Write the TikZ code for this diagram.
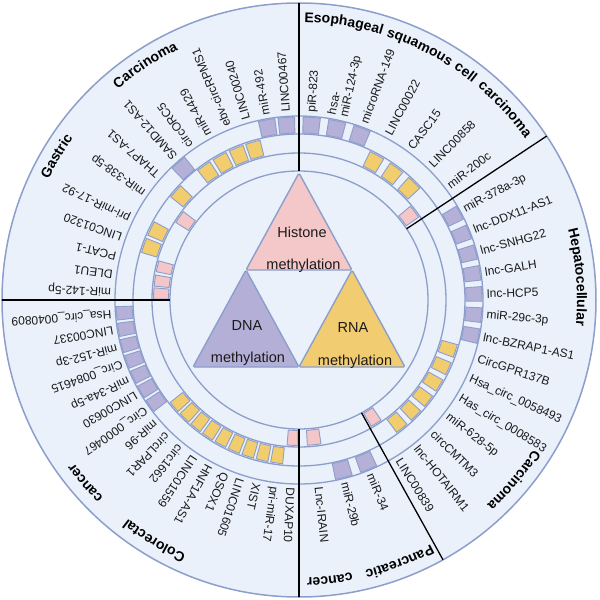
\documentclass[tikz,border=0pt]{standalone}
\usepackage{fontspec}
\setmainfont{Liberation Sans}
\usetikzlibrary{decorations.text}
\definecolor{bgc}{HTML}{EAF1FB}
\definecolor{ringc}{HTML}{8C9ECB}
\definecolor{pc}{HTML}{B5B0D8}
\definecolor{yc}{HTML}{F2CD6E}
\definecolor{kc}{HTML}{F4C6C7}
\definecolor{hc}{HTML}{F4C7C8}
\definecolor{dc}{HTML}{B4AFD7}
\definecolor{rc}{HTML}{F1CC70}
\definecolor{txt}{HTML}{1A1A1A}
\newcounter{lbn}
\newcommand\ttlfont{\bfseries\fontsize{14}{16}\selectfont}
\newcommand\ringbox[5]{\filldraw[boxst, fill=#3] ({#1-#2}:#4) arc[start angle={#1-#2}, end angle={#1+#2}, radius=#4] -- ({#1+#2}:#5) arc[start angle={#1+#2}, end angle={#1-#2}, radius=#5] -- cycle;}
\newcommand\lab[2]{\stepcounter{lbn}\node[lab, rotate=#1] (lab\arabic{lbn}) at ({#1}:188) {#2};}
\newcommand\itP[3][2.5]{\ringbox{#2}{#1}{pc}{167}{183}\lab{#2}{#3}}
\newcommand\itY[3][2.5]{\ringbox{#2}{#1}{yc}{148.5}{164.5}\lab{#2}{#3}}
\newcommand\itK[3][2.5]{\ringbox{#2}{#1}{kc}{130.5}{145.5}\lab{#2}{#3}}
\newcommand\ttl[3][278]{\path[decorate, decoration={text along path, text align=center, text={|\ttlfont|#3}}] ({#2+45}:#1) arc[start angle={#2+45}, end angle={#2-45}, radius=#1];}
\tikzset{
  boxst/.style={draw=ringc, line width=0.9pt},
  lab/.style={anchor=west, inner sep=0pt, font=\fontsize{12}{12.5}\selectfont, text=txt, align=left},
  tri/.style={draw=ringc, line width=1.4pt, line join=round, rounded corners=1.5pt},
  trit/.style={font=\fontsize{14.5}{16}\selectfont, text=txt, inner sep=0pt},
  divl/.style={black, line width=1.3pt},
  ringl/.style={ringc, line width=1.3pt}
}
\begin{document}
\begin{tikzpicture}[x=1pt,y=1pt]
\useasboundingbox (-299,-300) rectangle (301,300);
\fill[bgc] (0,0) circle (297);
\draw[ringc, line width=1.5pt] (0,0) circle (297);
\foreach \r in {129,147,166,184} \draw[ringl] (0,0) circle (\r);

% Esophageal squamous cell carcinoma
\itP[2.7]{86}{piR-823}
\itP[2.7]{77.9}{hsa-\\miR-124-3p}
\itP[2.7]{69.8}{microRNA-149}
\itY[2.7]{61.7}{LINC00022}
\itY[2.7]{53.6}{CASC15}
\itY[2.7]{45.5}{LINC00858}
\itK[2.7]{37.4}{miR-200c}

% Hepatocellular carcinoma
\itP[2.3]{28.5}{miR-378a-3p}
\itP[2.3]{21.85}{lnc-DDX11-AS1}
\itP[2.3]{15.2}{lnc-SNHG22}
\itP[2.3]{8.55}{lnc-GALH}
\itP[2.3]{1.9}{lnc-HCP5}
\itP[2.3]{-4.75}{miR-29c-3p}
\itP[2.3]{-11.4}{lnc-BZRAP1-AS1}
\itY[2.3]{-18.05}{CircGPR137B}
\itY[2.3]{-24.7}{Hsa\_circ\_0058493}
\itY[2.3]{-31.35}{Has\_circ\_0008583}
\itY[2.3]{-38}{miR-628-5p}
\itY[2.3]{-44.65}{circCMTM3}
\itY[2.3]{-51.3}{lnc-HOTAIRM1}
\itK[2.3]{-57.95}{LINC00839}

% Pancreatic cancer
\itP[2.7]{-67.6}{miR-34}
\itP[2.7]{-75.8}{miR-29b}
\itK[2.7]{-84}{Lnc-IRAIN}

% Colorectal cancer
\itP[2.1]{184.2}{Hsa\_circ\_0040809}
\itP[2.1]{189.4}{LINC00337}
\itP[2.1]{194.6}{miR-152-3p}
\itP[2.1]{199.8}{Circ\_0084615}
\itP[2.1]{205}{miR-34a-5p}
\itP[2.1]{210.2}{LINC00630}
\itP[2.1]{215.4}{Circ\_0000467}
\itY[2.1]{220.6}{miR-96}
\itY[2.1]{225.8}{circLPAR1}
\itY[2.1]{231}{circ1662}
\itY[2.1]{236.2}{LINC01559}
\itY[2.1]{241.4}{HNF1A-AS1}
\itY[2.1]{246.6}{QSOX1}
\itY[2.1]{251.8}{LINC01605}
\itY[2.1]{257}{XIST}
\itY[2.1]{262.2}{pri-miR-17}
\itK[2.1]{267.4}{DUXAP10}

% Gastric carcinoma
\itK[2.2]{177.4}{miR-142-5p}
\itK[2.2]{172.3}{DLEU1}
\itK[2.2]{166.6}{PCAT-1}
\itY[2.6]{160.6}{LINC01320}
\itY[2.6]{154.2}{pri-miR-17-92}
\itK[2.6]{145.2}{miR-338-5p}
\itY[2.6]{138.6}{THAP7-AS1}
\itP[2.6]{131.3}{SAMD12-AS1}
\itY[2.6]{125.4}{circORC5}
\itY[2.6]{118.9}{miR-4429}
\itY[2.6]{112.5}{ebv-circRPMS1}
\itY[2.6]{106.3}{LINC00240}
\itP[2.6]{100.2}{miR-492}
\itP[2.6]{94}{LINC00467}

% sector dividers
\foreach \a in {90,33.5,-61,-90,180} \draw[divl] (\a:129) -- (\a:297);

% titles
\ttl{80.8}{Esophageal}
\ttl{64.5}{squamous}
\ttl{53.8}{cell}
\ttl{42.8}{carcinoma}
\ttl{4.7}{Hepatocellular}
\ttl{-40}{Carcinoma}
\ttl{-69}{Pancreatic}
\ttl{-83.7}{cancer}
\ttl{-121}{Colorectal}
\ttl{-139.4}{cancer}
\ttl{149.3}{Gastric}
\ttl{123.2}{Carcinoma}

% central triangles
\coordinate (T) at (0,127);
\coordinate (BL) at (-106,-67);
\coordinate (BR) at (106,-67);
\coordinate (ML) at (-53,30);
\coordinate (MR) at (53,30);
\coordinate (MB) at (0,-67);
\filldraw[tri, fill=hc] (T) -- (ML) -- (MR) -- cycle;
\filldraw[tri, fill=dc] (ML) -- (BL) -- (MB) -- cycle;
\filldraw[tri, fill=rc] (MR) -- (MB) -- (BR) -- cycle;
\node[trit] (h1) at (3,67.5) {Histone};
\node[trit] (h2) at (4.5,34.5) {methylation};
\node[trit] (d1) at (-52,-26) {DNA};
\node[trit] (d2) at (-51,-59) {methylation};
\node[trit] (r1) at (54,-28) {RNA};
\node[trit] (r2) at (56,-61.5) {methylation};
\end{tikzpicture}
\end{document}
